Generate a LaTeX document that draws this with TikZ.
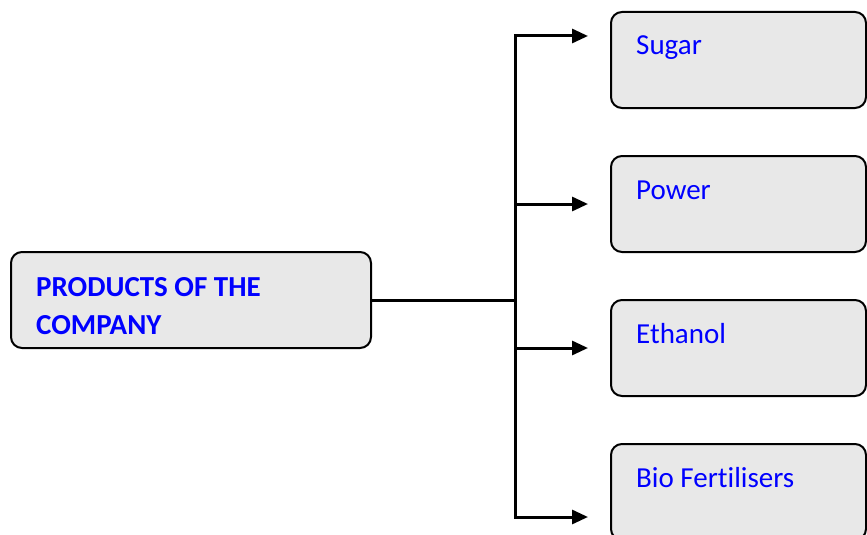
\documentclass[tikz,border=0pt]{standalone}
\usepackage{fontspec}
\setmainfont[Ligatures=NoCommon]{Carlito}
\usetikzlibrary{arrows.meta}
\definecolor{boxgray}{HTML}{E8E8E8}
\definecolor{txtblue}{HTML}{0000FF}

\begin{document}
\begin{tikzpicture}[x=1pt,y=1pt,
  box/.style={draw=black, line width=2pt, fill=boxgray, rounded corners=11pt,
    minimum width=255pt, minimum height=96pt, inner sep=0pt},
  label/.style={anchor=base west, inner sep=0pt, text=txtblue,
    font=\fontsize{29}{38}\selectfont},
  link/.style={line width=3pt},
  feed/.style={link, -{Triangle[length=16pt,width=14pt]}}]

\useasboundingbox (0,0) rectangle (867,-535);
\clip (0,0) rectangle (867,-535);

  %% company
  \node[box, minimum width=360pt] (company) at (191,-300) {};
  \node[label, align=left, font=\fontsize{29}{38}\selectfont\bfseries]
    (companytxt) at (36,-334) {PRODUCTS OF THE\\COMPANY};

  %% products
  \node[box] (sugar)   at (738.5,-60)  {};
  \node[box] (power)   at (738.5,-204) {};
  \node[box] (ethanol) at (738.5,-348) {};
  \node[box] (bio)     at (738.5,-492) {};

  \node[label] (sugartxt)   at (636,-55)  {Sugar};
  \node[label] (powertxt)   at (636,-199) {Power};
  \node[label] (ethanoltxt) at (636,-343) {Ethanol};
  \node[label] (biotxt)     at (636,-487) {Bio Fertilisers};

  %% trunk
  \coordinate (join) at (515,-300);
  \coordinate (t1) at (515,-36);
  \coordinate (t2) at (515,-204);
  \coordinate (t3) at (515,-348);
  \coordinate (t4) at (515,-517);

  %% arrow ends
  \coordinate (e1) at (588,-36);
  \coordinate (e2) at (588,-204);
  \coordinate (e3) at (588,-348);
  \coordinate (e4) at (588,-517);

  \draw[link] (company.east) -- (join);
  \draw[link, line cap=rect] (t1) -- (t4);
  \draw[feed] (t1) -- (e1); %% Sugar
  \draw[feed] (t2) -- (e2); %% Power
  \draw[feed] (t3) -- (e3); %% Ethanol
  \draw[feed] (t4) -- (e4); %% Bio Fertilisers

\end{tikzpicture}
\end{document}
